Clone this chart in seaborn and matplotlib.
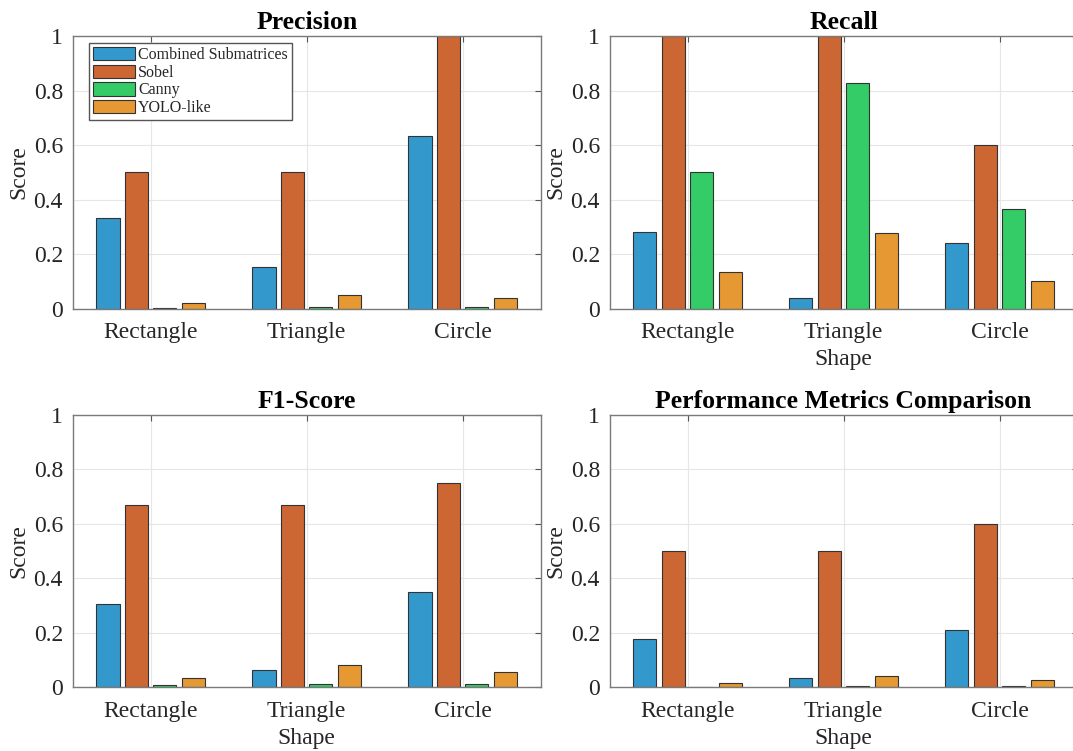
import matplotlib
matplotlib.use("Agg")
import matplotlib.pyplot as plt
import seaborn as sns
import pandas as pd

shapes = ["Rectangle", "Triangle", "Circle"]
methods = ["Combined Submatrices", "Sobel", "Canny", "YOLO-like"]
colors = ["#3399CC", "#CC6633", "#33CC66", "#E69933"]

# scores per method, in shape order
precision = {
    "Combined Submatrices": [0.333, 0.152, 0.632],
    "Sobel": [0.5, 0.5, 1.0],
    "Canny": [0.003, 0.005, 0.006],
    "YOLO-like": [0.020, 0.049, 0.039],
}
recall = {
    "Combined Submatrices": [0.28, 0.04, 0.24],
    "Sobel": [1.0, 1.0, 0.6],
    "Canny": [0.5, 0.826, 0.367],
    "YOLO-like": [0.133, 0.276, 0.1],
}
f1_score = {
    "Combined Submatrices": [0.305, 0.064, 0.349],
    "Sobel": [0.667, 0.667, 0.75],
    "Canny": [0.007, 0.011, 0.012],
    "YOLO-like": [0.034, 0.082, 0.056],
}
comparison = {
    "Combined Submatrices": [0.179, 0.034, 0.21],
    "Sobel": [0.5, 0.5, 0.6],
    "Canny": [0.002, 0.004, 0.005],
    "YOLO-like": [0.016, 0.042, 0.028],
}

titles = ["Precision", "Recall", "F1-Score", "Performance Metrics Comparison"]
metrics = [precision, recall, f1_score, comparison]
show_xlabel = [False, True, True, True]


def to_frame(metric):
    rows = []
    for m in methods:
        for s, v in zip(shapes, metric[m]):
            rows.append({"Shape": s, "Method": m, "Score": v})
    return pd.DataFrame(rows)


sns.set_style("white")
plt.rcParams["font.family"] = ["Liberation Serif", "DejaVu Serif"]
plt.rcParams["axes.axisbelow"] = True

fig = plt.figure(figsize=(10.73, 7.51), dpi=100)
W, H = 1073, 751
boxes = [
    (72.7, 36.0),
    (609.6, 36.0),
    (72.7, 414.7),
    (609.6, 414.7),
]
aw, ah = 468.0, 272.6

for i, (metric, title) in enumerate(zip(metrics, titles)):
    x0, y0 = boxes[i]
    ax = fig.add_axes([x0 / W, 1 - (y0 + ah) / H, aw / W, ah / H])
    df = to_frame(metric)
    sns.barplot(data=df, x="Shape", y="Score", hue="Method", order=shapes,
                hue_order=methods, palette=colors, width=0.73, gap=0.19,
                edgecolor="#333333", linewidth=0.8, saturation=1,
                errorbar=None, legend=(i == 0), ax=ax)
    ax.set_xlim(-0.5, 2.5)
    ax.set_ylim(0, 1)
    ax.set_yticks([0, 0.2, 0.4, 0.6, 0.8, 1])
    ax.set_yticklabels(["0", "0.2", "0.4", "0.6", "0.8", "1"])
    ax.grid(True, color="#E6E6E6", linewidth=0.8)
    ax.tick_params(direction="in", length=4, width=0.8, color="#555555",
                   labelsize=17, pad=7, top=True, right=True,
                   labelcolor="#262626")
    ax.tick_params(axis="x", pad=10)
    for sp in ax.spines.values():
        sp.set_color("#7A7A7A")
        sp.set_linewidth(1.0)
    ax.set_title(title, fontsize=18.5, fontweight="bold", pad=5, color="black")
    ax.set_ylabel("Score", fontsize=17, labelpad=3, color="#262626")
    if show_xlabel[i]:
        ax.set_xlabel("Shape", fontsize=17, labelpad=4, color="#262626")
    else:
        ax.set_xlabel("")
    if i == 0:
        handles, labels = ax.get_legend_handles_labels()
        ax.legend(handles, labels, loc="upper left",
                  bbox_to_anchor=(0.0355, 0.975), borderaxespad=0,
                  fontsize=11.5, frameon=True, fancybox=False,
                  edgecolor="#555555", framealpha=1, handlelength=2.6,
                  handleheight=0.9, handletextpad=0.2, labelspacing=0.1,
                  borderpad=0.25)

fig.savefig("out.png", dpi=100)
